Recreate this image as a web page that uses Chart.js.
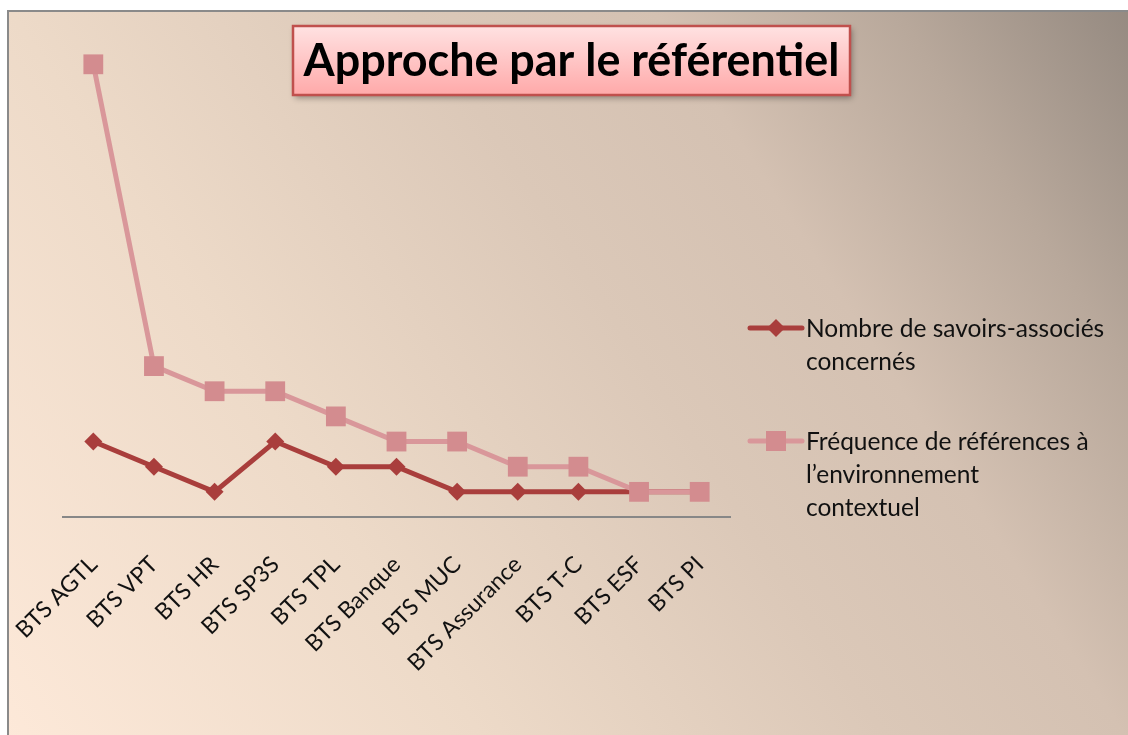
<!DOCTYPE html>
<html>
<head>
<meta charset="UTF-8" />
<title>Approche par le référentiel</title>
<script src="https://cdn.jsdelivr.net/npm/chart.js@4.4.0/dist/chart.umd.min.js"></script>
<style>
    body {
        margin: 0;
        width: 1128px;
        height: 735px;
        overflow: hidden;
        background: white;
        font-family: Lato, "Open Sans", sans-serif;
    }
    #frame {
        position: absolute;
        left: 7px;
        top: 10px;
        width: 1130px;
        height: 740px;
        border-left: 2px solid #8a8a8a;
        border-top: 2px solid #8a8a8a;
        background: linear-gradient(57deg, #fde9d9 0%, #eddac8 30%, #dbc8b8 55%, #d4c1b2 70%, #b8a89b 85%, #948980 100%);
    }
    #chartBox {
        position: absolute;
        left: 0;
        top: 0;
        width: 1128px;
        height: 735px;
    }
</style>
</head>
<body>
<div id="frame"></div>
<div id="chartBox"><canvas id="refChart"></canvas></div>

<script>
    var categories = ['BTS AGTL', 'BTS VPT', 'BTS HR', 'BTS SP3S', 'BTS TPL', 'BTS Banque',
                      'BTS MUC', 'BTS Assurance', 'BTS T-C', 'BTS ESF', 'BTS PI'];
    var savoirs = [3, 2, 1, 3, 2, 2, 1, 1, 1, 1, 1];
    var frequence = [18, 6, 5, 5, 4, 3, 3, 2, 2, 1, 1];

    var chartTitle = 'Approche par le référentiel';
    var legendLines1 = ['Nombre de savoirs-associés', 'concernés'];
    var legendLines2 = ['Fréquence de références à', 'l\u2019environnement', 'contextuel'];

    var darkRed = '#a93e3c';
    var lightLine = '#d9979a';
    var lightSquare = '#d38c8f';
    var textFont = 'Lato, "Open Sans", sans-serif';

    // title box + legend drawn on top of the chart
    var decorPlugin = {
        id: 'decor',
        afterDraw: function (chart) {
            var ctx = chart.ctx;
            ctx.save();

            // title box
            var bx = 293, by = 26, bw = 557, bh = 69;
            ctx.shadowColor = 'rgba(0,0,0,0.35)';
            ctx.shadowBlur = 6;
            ctx.shadowOffsetX = 2;
            ctx.shadowOffsetY = 3;
            var g = ctx.createLinearGradient(0, by, 0, by + bh);
            g.addColorStop(0, '#ffe2e2');
            g.addColorStop(1, '#ffa9a9');
            ctx.fillStyle = g;
            ctx.fillRect(bx, by, bw, bh);
            ctx.shadowColor = 'transparent';
            ctx.strokeStyle = '#c0504d';
            ctx.lineWidth = 2.5;
            ctx.strokeRect(bx, by, bw, bh);

            var size = 40;
            ctx.font = 'bold ' + size + 'px ' + textFont;
            var w = ctx.measureText(chartTitle).width;
            size = size * 536 / w;
            ctx.font = 'bold ' + size + 'px ' + textFont;
            ctx.fillStyle = '#000';
            ctx.textAlign = 'center';
            ctx.textBaseline = 'middle';
            ctx.fillText(chartTitle, bx + bw / 2, by + bh / 2 + 1);

            // legend
            ctx.textAlign = 'left';
            ctx.font = '24.5px ' + textFont;
            ctx.lineCap = 'round';

            ctx.strokeStyle = darkRed;
            ctx.lineWidth = 5;
            ctx.beginPath();
            ctx.moveTo(750, 328);
            ctx.lineTo(802, 328);
            ctx.stroke();
            ctx.fillStyle = darkRed;
            ctx.beginPath();
            ctx.moveTo(776, 319);
            ctx.lineTo(785, 328);
            ctx.lineTo(776, 337);
            ctx.lineTo(767, 328);
            ctx.closePath();
            ctx.fill();
            ctx.fillStyle = '#111';
            legendLines1.forEach(function (t, i) {
                ctx.fillText(t, 806, 329 + i * 33);
            });

            ctx.strokeStyle = lightLine;
            ctx.beginPath();
            ctx.moveTo(750, 441);
            ctx.lineTo(802, 441);
            ctx.stroke();
            ctx.fillStyle = lightSquare;
            ctx.fillRect(766, 431, 20, 20);
            ctx.fillStyle = '#111';
            legendLines2.forEach(function (t, i) {
                ctx.fillText(t, 806, 442 + i * 33);
            });

            ctx.restore();
        }
    };

    var data = {
        labels: categories,
        datasets: [{
            label: legendLines1.join(' '),
            data: savoirs,
            order: 2,
            borderColor: darkRed,
            backgroundColor: darkRed,
            borderWidth: 5,
            pointStyle: 'rectRot',
            pointRadius: 9,
            pointBorderWidth: 0,
            tension: 0
        }, {
            label: legendLines2.join(' '),
            data: frequence,
            order: 1,
            borderColor: lightLine,
            backgroundColor: lightSquare,
            borderWidth: 5,
            pointStyle: 'rect',
            pointRadius: 14,
            pointBorderWidth: 0,
            tension: 0
        }]
    };

    var options = {
        responsive: false,
        animation: false,
        layout: {
            padding: { left: 63, right: 398, top: 11, bottom: 0 }
        },
        plugins: {
            legend: { display: false },
            title: { display: false },
            tooltip: { enabled: false }
        },
        scales: {
            x: {
                offset: true,
                grid: { display: false, drawTicks: false },
                border: { display: true, color: '#878787', width: 2 },
                ticks: {
                    color: '#111',
                    font: { size: 23, family: textFont },
                    minRotation: 45,
                    maxRotation: 45,
                    padding: 34
                },
                afterFit: function (scale) {
                    scale.height = 218;
                    scale.paddingLeft = 0;  // rotated labels may overflow to the left
                    scale.paddingRight = 0;
                }
            },
            y: {
                display: false,
                min: 0,
                max: 20
            }
        }
    };

    var canvas = document.getElementById('refChart');
    canvas.width = 1128;
    canvas.height = 735;
    var refChart = new Chart(canvas, {
        type: 'line', data: data, options: options, plugins: [decorPlugin]
    });
</script>
</body>
</html>
